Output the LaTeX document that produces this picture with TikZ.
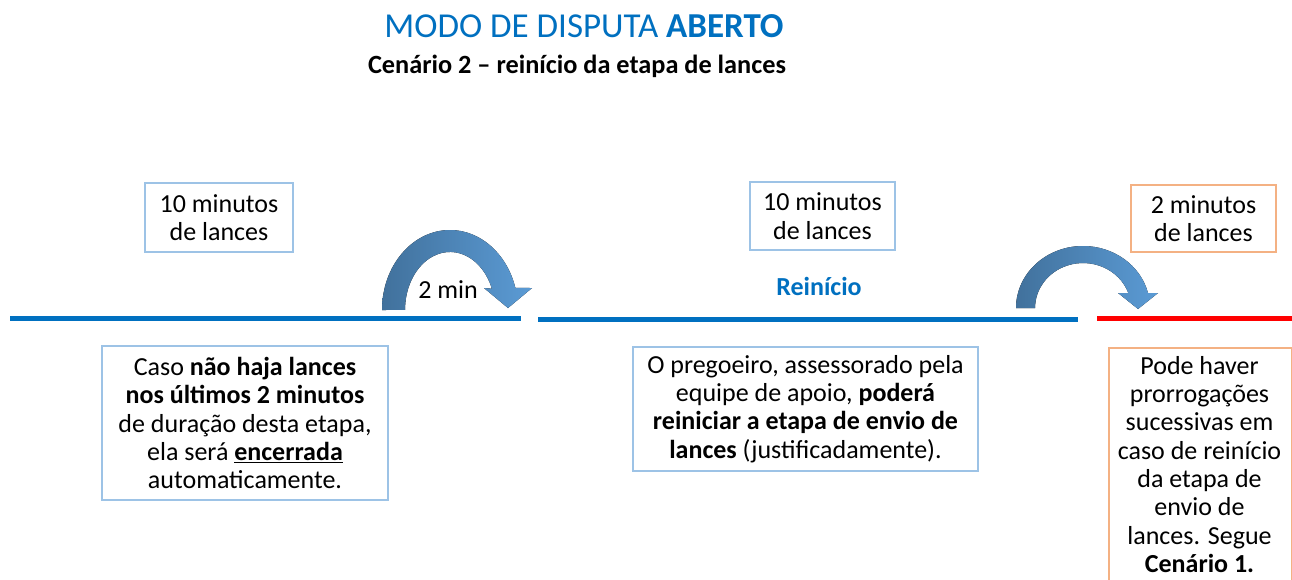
\documentclass[tikz,border=0pt]{standalone}
\usepackage{fontspec}
\setmainfont{Carlito}
\definecolor{tblue}{HTML}{0070C0}
\definecolor{boxblue}{HTML}{9DC3E6}
\definecolor{boxorange}{HTML}{F4B183}
\definecolor{adark}{HTML}{41719C}
\definecolor{alight}{HTML}{5B9BD5}
\tikzset{
  bbox/.style={draw=boxblue, line width=1.5pt, align=center, inner sep=0pt, font=\fontsize{26}{28.3}\selectfont},
  obox/.style={draw=boxorange, line width=1.5pt, align=center, inner sep=0pt, font=\fontsize{26}{28.3}\selectfont},
  txt/.style={font=\fontsize{26}{28.3}\selectfont, align=center, inner sep=0pt},
  tline/.style={line width=5pt},
  curvearrow/.style={left color=adark, right color=alight, draw=none}
}
\begin{document}
\begin{tikzpicture}[x=1pt,y=-1pt]
\clip (0,0) rectangle (1292,579);
\fill[white] (0,0) rectangle (1292,579);
% titles
\node[inner sep=0pt, text=tblue, font=\fontsize{35}{40}\selectfont] (title) at (584,26) {MODO DE DISPUTA \textbf{ABERTO}};
\node[inner sep=0pt, font=\fontsize{26.3}{30}\selectfont\bfseries] (sub) at (577,66) {Cenário 2 – reinício da etapa de lances};
% top boxes
\node[bbox, minimum width=148, minimum height=69] (b1) at (219,217.5) {10 minutos\\de lances};
\node[bbox, minimum width=145, minimum height=68] (b2) at (822.5,216) {10 minutos\\de lances};
\node[obox, minimum width=145, minimum height=67] (b3) at (1203.5,218.5) {2 minutos\\de lances};
% timeline
\coordinate (l1a) at (10,318); \coordinate (l1b) at (521,318);
\coordinate (l2a) at (538,319); \coordinate (l2b) at (1078,319);
\coordinate (l3a) at (1097,318); \coordinate (l3b) at (1292,318);
\draw[tline, tblue] (l1a) -- (l1b);
\draw[tline, tblue] (l2a) -- (l2b);
\draw[tline, red] (l3a) -- (l3b);
% curved arrows
\fill[curvearrow] (382,310) arc[start angle=180, end angle=344, x radius=68, y radius=80]
  -- (532,288) -- (508,308) -- (484,288) -- (491.9,288.7)
  arc[start angle=338.5, end angle=180, x radius=45, y radius=58] -- cycle;
\fill[curvearrow] (1016,308) arc[start angle=180, end angle=346, x radius=67, y radius=62]
  -- (1158,293) -- (1138,309) -- (1118,293) -- (1128.3,293)
  arc[start angle=340.5, end angle=180, x radius=48, y radius=45] -- cycle;
\node[txt] (min2) at (448,290) {2 min};
\node[txt, text=tblue, font=\fontsize{26}{28}\selectfont\bfseries] (rein) at (819,286) {Reinício};
% bottom boxes
\node[bbox, minimum width=286, minimum height=154] (b4) at (245,423) {Caso \textbf{não haja lances}\\\textbf{nos últimos 2 minutos}\\de duração desta etapa,\\ela será \textbf{\underline{encerrada}}\\automaticamente.};
\node[bbox, minimum width=345, minimum height=124] (b5) at (805.5,409) {O pregoeiro, assessorado pela\\equipe de apoio, \textbf{poderá}\\\textbf{reiniciar a etapa de envio de}\\\textbf{lances} (justificadamente).};
\node[obox, anchor=north west, minimum width=183, minimum height=270] (b6) at (1108,347) {};
\node[txt, anchor=north] (t6) at (1199.5,356) {Pode haver\\prorrogações\\sucessivas em\\caso de reinício\\da etapa de\\envio de\\lances. Segue\\\textbf{Cenário 1.}};
\end{tikzpicture}
\end{document}
